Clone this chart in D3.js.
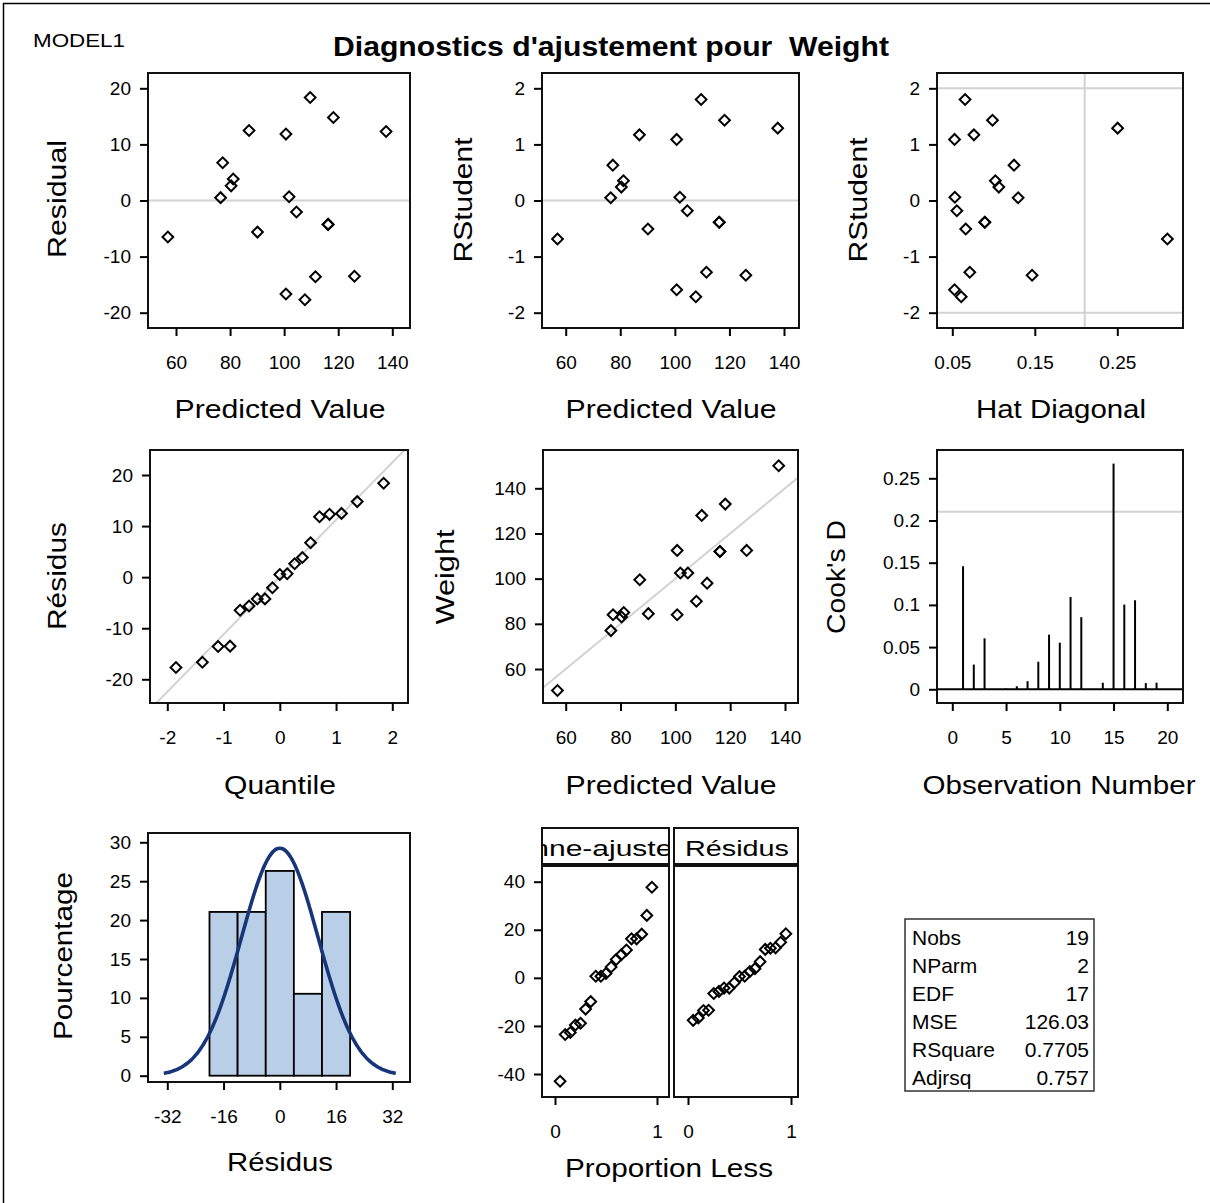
<!DOCTYPE html>
<html>
<head>
<meta charset="utf-8">
<script src="https://cdn.jsdelivr.net/npm/d3@7"></script>
<style>
  body { margin: 0; background: #fff; }
  text { font-family: "Liberation Sans", Arial, sans-serif; }
</style>
</head>
<body>
<svg id="chart" width="1210" height="1203"></svg>
<script>
// ---- data (19 observations) ----
const obsNumber = [1, 2, 3, 4, 5, 6, 7, 8, 9, 10, 11, 12, 13, 14, 15, 16, 17, 18, 19];
const predicted = [126.006, 77.268, 111.580, 101.832, 104.561, 80.387, 90.135, 100.662, 100.662, 87.016,
                   56.993, 107.681, 76.488, 116.258, 137.703, 109.630, 118.208, 81.167, 116.258];
const weight = [112.5, 84, 98, 102.5, 102.5, 83, 84.5, 112.5, 84, 99.5, 50.5, 90, 77, 112, 150, 128, 133, 85, 112];
const residual = [-13.506, 6.732, -13.580, 0.668, -2.061, 2.613, -5.635, 11.838, -16.662, 12.484,
                  -6.493, -17.681, 0.512, -4.258, 12.297, 18.370, 14.792, 3.833, -4.258];
const rstudent = [-1.332, 0.630, -1.278, 0.059, -0.184, 0.239, -0.508, 1.089, -1.592, 1.170,
                  -0.686, -1.716, 0.048, -0.387, 1.290, 1.801, 1.430, 0.351, -0.387];
const hatDiag = [0.1467, 0.1248, 0.0712, 0.0531, 0.0555, 0.1064, 0.0663, 0.0527, 0.0527, 0.0762,
                 0.3107, 0.0608, 0.1298, 0.0894, 0.2504, 0.0655, 0.0987, 0.1022, 0.0894];
const cooksD = [0.1458, 0.0293, 0.0604, 0.0001, 0.0011, 0.0036, 0.0096, 0.0327, 0.0647, 0.0552,
                0.1094, 0.0855, 0.0002, 0.0078, 0.2674, 0.1004, 0.1055, 0.0074, 0.0078];

// normal quantiles for the sorted residuals
const normalQuantile = [-1.846, -1.376, -1.097, -0.884, -0.706, -0.547, -0.401, -0.264, -0.131, 0,
                        0.131, 0.264, 0.401, 0.547, 0.706, 0.884, 1.097, 1.376, 1.846];
// residual-fit spread
const fitMinusMean = [-43.03, -23.54, -22.76, -19.64, -18.86, -13.01, -9.89, 0.64, 0.64, 1.81,
                      4.54, 7.65, 9.60, 11.55, 16.23, 16.23, 18.18, 25.98, 37.68];
const proportionLess = [0.05, 0.10, 0.15, 0.20, 0.25, 0.30, 0.35, 0.40, 0.45, 0.50,
                        0.55, 0.60, 0.65, 0.70, 0.75, 0.80, 0.85, 0.90, 0.95];

// histogram of residuals
const binMids = [-16, -8, 0, 8, 16];
const binPercent = [21.05, 21.05, 26.32, 10.53, 21.05];
const binWidth = 8;
const residualMean = 0;
const residualSd = 10.91;
const rootMse = 11.226;

// cutoffs
const rstudentLimits = [-2, 2];
const hatCutoff = 0.2105;
const cooksCutoff = 0.2105;

// fit statistics
const statNames = ["Nobs", "NParm", "EDF", "MSE", "RSquare", "Adjrsq"];
const statValues = ["19", "2", "17", "126.03", "0.7705", "0.757"];

// tick values
const predTicks = [60, 80, 100, 120, 140];
const residTicks = [-20, -10, 0, 10, 20];
const rstudTicks = [-2, -1, 0, 1, 2];
const hatTicks = [0.05, 0.15, 0.25];
const quantTicks = [-2, -1, 0, 1, 2];
const weightTicks = [60, 80, 100, 120, 140];
const obsTicks = [0, 5, 10, 15, 20];
const cookTicks = [0, 0.05, 0.1, 0.15, 0.2, 0.25];
const histXTicks = [-32, -16, 0, 16, 32];
const histYTicks = [0, 5, 10, 15, 20, 25, 30];
const spreadYTicks = [-40, -20, 0, 20, 40];
const spreadXTicks = [0, 1];

// ---- drawing ----
const svg = d3.select("svg#chart");
const FONT = '"Liberation Sans", Arial, sans-serif';
const refGray = "#d2d2d2";
let clipCount = 0;

// plain hyphen minus like the original output
const plain = f => d => f(d).replace("\u2212", "-");

// outer border
svg.append("rect")
    .attr("x", 3.5).attr("y", 3.5)
    .attr("width", 1220).attr("height", 1220)
    .attr("fill", "none").attr("stroke", "#000").attr("stroke-width", 1.5);

function frame(b) {
    svg.append("rect")
        .attr("x", b.x0).attr("y", b.y0)
        .attr("width", b.x1 - b.x0).attr("height", b.y1 - b.y0)
        .attr("fill", "none").attr("stroke", "#111").attr("stroke-width", 2);
}

function clipGroup(b) {
    const id = "clip" + (clipCount++);
    svg.append("clipPath").attr("id", id)
        .append("rect")
        .attr("x", b.x0).attr("y", b.y0)
        .attr("width", b.x1 - b.x0).attr("height", b.y1 - b.y0);
    return svg.append("g").attr("clip-path", `url(#${id})`);
}

function styleAxis(g) {
    g.attr("font-size", 19).attr("font-family", FONT);
    g.select(".domain").remove();
    g.selectAll(".tick line").attr("stroke", "#000").attr("stroke-width", 2);
    g.selectAll(".tick text").attr("fill", "#000");
}

function leftAxis(scale, x, ticks, fmt) {
    const g = svg.append("g")
        .attr("transform", `translate(${x},0)`)
        .call(d3.axisLeft(scale).tickValues(ticks).tickSize(8).tickPadding(9)
            .tickFormat(plain(fmt || d3.format("~g"))));
    styleAxis(g);
}

function bottomAxis(scale, y, ticks, fmt) {
    const g = svg.append("g")
        .attr("transform", `translate(0,${y})`)
        .call(d3.axisBottom(scale).tickValues(ticks).tickSize(8).tickPadding(20)
            .tickFormat(plain(fmt || d3.format("~g"))));
    styleAxis(g);
}

function label(txt, x, y, len, rotate, size) {
    const t = svg.append("text")
        .text(txt)
        .attr("text-anchor", "middle")
        .attr("font-size", size || 25)
        .attr("fill", "#000");
    if (rotate) t.attr("transform", `translate(${x},${y}) rotate(-90)`);
    else t.attr("x", x).attr("y", y);
    if (len) t.attr("textLength", len).attr("lengthAdjust", "spacingAndGlyphs");
    return t;
}

const diamond = d3.symbol().type(d3.symbolSquare).size(58);
function points(xs, ys, sx, sy) {
    svg.append("g")
        .selectAll("path")
        .data(xs.map((x, i) => [x, ys[i]]))
        .join("path")
        .attr("d", diamond)
        .attr("transform", d => `translate(${sx(d[0])},${sy(d[1])}) rotate(45)`)
        .attr("fill", "none")
        .attr("stroke", "#000")
        .attr("stroke-width", 2);
}

function hRef(g, b, sy, v, color) {
    g.append("line")
        .attr("x1", b.x0).attr("x2", b.x1)
        .attr("y1", sy(v)).attr("y2", sy(v))
        .attr("stroke", color || refGray).attr("stroke-width", 2);
}
function vRef(g, b, sx, v) {
    g.append("line")
        .attr("x1", sx(v)).attr("x2", sx(v))
        .attr("y1", b.y0).attr("y2", b.y1)
        .attr("stroke", refGray).attr("stroke-width", 2);
}
function diagRef(g, b, sx, sy, slope) {
    const lo = sx.invert(b.x0), hi = sx.invert(b.x1);
    g.append("line")
        .attr("x1", b.x0).attr("y1", sy(lo * slope))
        .attr("x2", b.x1).attr("y2", sy(hi * slope))
        .attr("stroke", refGray).attr("stroke-width", 2);
}

// titles
svg.append("text").text("MODEL1")
    .attr("x", 33).attr("y", 47).attr("font-size", 18)
    .attr("textLength", 92).attr("lengthAdjust", "spacingAndGlyphs");
svg.append("text").text("Diagnostics d'ajustement pour  Weight")
    .attr("x", 333).attr("y", 56).attr("font-size", 27).attr("font-weight", "bold")
    .style("white-space", "pre")
    .attr("textLength", 556).attr("lengthAdjust", "spacingAndGlyphs");

// 1. Residual vs Predicted
{
    const b = { x0: 148, y0: 73, x1: 410, y1: 328 };
    const x = d3.scaleLinear().domain([60, 140]).range([176, 392.3]);
    const y = d3.scaleLinear().domain([-20, 20]).range([312.7, 88.3]);
    const g = clipGroup(b);
    hRef(g, b, y, 0);
    points(predicted, residual, x, y);
    frame(b);
    leftAxis(y, b.x0, residTicks);
    bottomAxis(x, b.y1, predTicks);
    label("Predicted Value", 280, 418, 211);
    label("Residual", 66, 199, 118, true);
}

// 2. RStudent vs Predicted
{
    const b = { x0: 542, y0: 73, x1: 799, y1: 328 };
    const x = d3.scaleLinear().domain([60, 140]).range([565.7, 784]);
    const y = d3.scaleLinear().domain([-2, 2]).range([312.7, 88.3]);
    const g = clipGroup(b);
    hRef(g, b, y, 0);
    points(predicted, rstudent, x, y);
    frame(b);
    leftAxis(y, b.x0, rstudTicks);
    bottomAxis(x, b.y1, predTicks);
    label("Predicted Value", 671, 418, 211);
    label("RStudent", 472, 200, 125, true);
}

// 3. RStudent vs Hat Diagonal
{
    const b = { x0: 937, y0: 73, x1: 1183, y1: 328 };
    const x = d3.scaleLinear().domain([0.05, 0.25]).range([952.3, 1117.3]);
    const y = d3.scaleLinear().domain([-2, 2]).range([312.7, 88.3]);
    const g = clipGroup(b);
    rstudentLimits.forEach(v => hRef(g, b, y, v));
    vRef(g, b, x, hatCutoff);
    points(hatDiag, rstudent, x, y);
    frame(b);
    leftAxis(y, b.x0, rstudTicks);
    bottomAxis(x, b.y1, hatTicks, d3.format(".2f"));
    label("Hat Diagonal", 1061, 418, 170);
    label("RStudent", 867, 200, 125, true);
}

// 4. Normal quantile plot of residuals
{
    const b = { x0: 150, y0: 450, x1: 408, y1: 703 };
    const x = d3.scaleLinear().domain([-2, 2]).range([167.3, 392.3]);
    const y = d3.scaleLinear().domain([-20, 20]).range([679.3, 475]);
    const g = clipGroup(b);
    diagRef(g, b, x, y, rootMse);
    points(normalQuantile, residual.slice().sort(d3.ascending), x, y);
    frame(b);
    leftAxis(y, b.x0, residTicks);
    bottomAxis(x, b.y1, quantTicks);
    label("Quantile", 280, 794, 112);
    label("Résidus", 66, 576, 108, true);
}

// 5. Weight vs Predicted
{
    const b = { x0: 543, y0: 450, x1: 798, y1: 703 };
    const x = d3.scaleLinear().domain([60, 140]).range([565.7, 785]);
    const y = d3.scaleLinear().domain([60, 140]).range([669, 488.3]);
    const g = clipGroup(b);
    diagRef(g, b, x, y, 1);
    points(predicted, weight, x, y);
    frame(b);
    leftAxis(y, b.x0, weightTicks);
    bottomAxis(x, b.y1, predTicks);
    label("Predicted Value", 671, 794, 211);
    label("Weight", 454, 577, 95, true);
}

// 6. Cook's D
{
    const b = { x0: 937, y0: 450, x1: 1183, y1: 703 };
    const x = d3.scaleLinear().domain([0, 20]).range([952.3, 1167.3]);
    const y = d3.scaleLinear().domain([0, 0.25]).range([689.3, 478.3]);
    const g = clipGroup(b);
    hRef(g, b, y, cooksCutoff);
    g.selectAll("line.needle")
        .data(obsNumber)
        .join("line")
        .attr("class", "needle")
        .attr("x1", d => x(d)).attr("x2", d => x(d))
        .attr("y1", y(0)).attr("y2", (d, i) => y(cooksD[i]))
        .attr("stroke", "#000").attr("stroke-width", 2);
    hRef(g, b, y, 0, "#000");
    frame(b);
    leftAxis(y, b.x0, cookTicks);
    bottomAxis(x, b.y1, obsTicks);
    label("Observation Number", 1059, 794, 273);
    label("Cook's D", 845, 577, 114, true);
}

// 7. Histogram of residuals with normal curve
{
    const b = { x0: 148, y0: 833, x1: 410, y1: 1082 };
    const x = d3.scaleLinear().domain([-32, 32]).range([167.3, 392.3]);
    const y = d3.scaleLinear().domain([0, 30]).range([1075.7, 842.3]);
    const g = clipGroup(b);
    g.selectAll("rect.bin")
        .data(binMids)
        .join("rect")
        .attr("class", "bin")
        .attr("x", d => x(d - binWidth / 2))
        .attr("width", x(binWidth) - x(0))
        .attr("y", (d, i) => y(binPercent[i]))
        .attr("height", (d, i) => y(0) - y(binPercent[i]))
        .attr("fill", "#b9cfe7")
        .attr("stroke", "#000")
        .attr("stroke-width", 1.8);
    const curveX = d3.range(-33, 33.01, 0.5);
    const pdf = v => 100 * binWidth * Math.exp(-0.5 * ((v - residualMean) / residualSd) ** 2) /
        (residualSd * Math.sqrt(2 * Math.PI));
    g.append("path")
        .datum(curveX)
        .attr("d", d3.line().x(d => x(d)).y(d => y(pdf(d))).curve(d3.curveBasis))
        .attr("fill", "none")
        .attr("stroke", "#17367a")
        .attr("stroke-width", 3.6);
    frame(b);
    leftAxis(y, b.x0, histYTicks);
    bottomAxis(x, b.y1, histXTicks);
    label("Résidus", 280, 1171, 106);
    label("Pourcentage", 72, 956, 168, true);
}

// 8. Residual-fit spread plot
{
    const y = d3.scaleLinear().domain([-40, 40]).range([1074, 881.7]);
    const cells = [
        { b: { x0: 542, y0: 866, x1: 669, y1: 1097 }, h: { x0: 542, y0: 828, x1: 669, y1: 864 },
          x: d3.scaleLinear().domain([0, 1]).range([555, 657]), vals: fitMinusMean,
          title: "Moyenne-ajustement", tx: 599, tlen: 280 },
        { b: { x0: 674, y0: 866, x1: 798, y1: 1097 }, h: { x0: 674, y0: 828, x1: 798, y1: 864 },
          x: d3.scaleLinear().domain([0, 1]).range([688, 791]), vals: residual.slice().sort(d3.ascending),
          title: "Résidus", tx: 737, tlen: 104 }
    ];
    cells.forEach(c => {
        svg.append("rect")
            .attr("x", c.h.x0).attr("y", c.h.y0)
            .attr("width", c.h.x1 - c.h.x0).attr("height", c.h.y1 - c.h.y0)
            .attr("fill", "#fff").attr("stroke", "#111").attr("stroke-width", 2);
        const hg = clipGroup(c.h);
        hg.append("text").text(c.title)
            .attr("x", c.tx).attr("y", 856)
            .attr("text-anchor", "middle").attr("font-size", 22)
            .attr("textLength", c.tlen)
            .attr("lengthAdjust", "spacingAndGlyphs");
        points(proportionLess, c.vals, c.x, y);
        frame(c.b);
        bottomAxis(c.x, c.b.y1, spreadXTicks);
    });
    leftAxis(y, 542, spreadYTicks);
    label("Proportion Less", 669, 1177, 208);
}

// fit statistics table
{
    const box = { x0: 905, y0: 919, x1: 1094, y1: 1091 };
    svg.append("rect")
        .attr("x", box.x0).attr("y", box.y0)
        .attr("width", box.x1 - box.x0).attr("height", box.y1 - box.y0)
        .attr("fill", "#fff").attr("stroke", "#333").attr("stroke-width", 1.5);
    const rowY = d3.scalePoint().domain(statNames).range([945, 1085]);
    statNames.forEach((n, i) => {
        svg.append("text").text(n)
            .attr("x", 912).attr("y", rowY(n)).attr("font-size", 21);
        svg.append("text").text(statValues[i])
            .attr("x", 1089).attr("y", rowY(n)).attr("font-size", 21)
            .attr("text-anchor", "end");
    });
}
</script>
</body>
</html>
